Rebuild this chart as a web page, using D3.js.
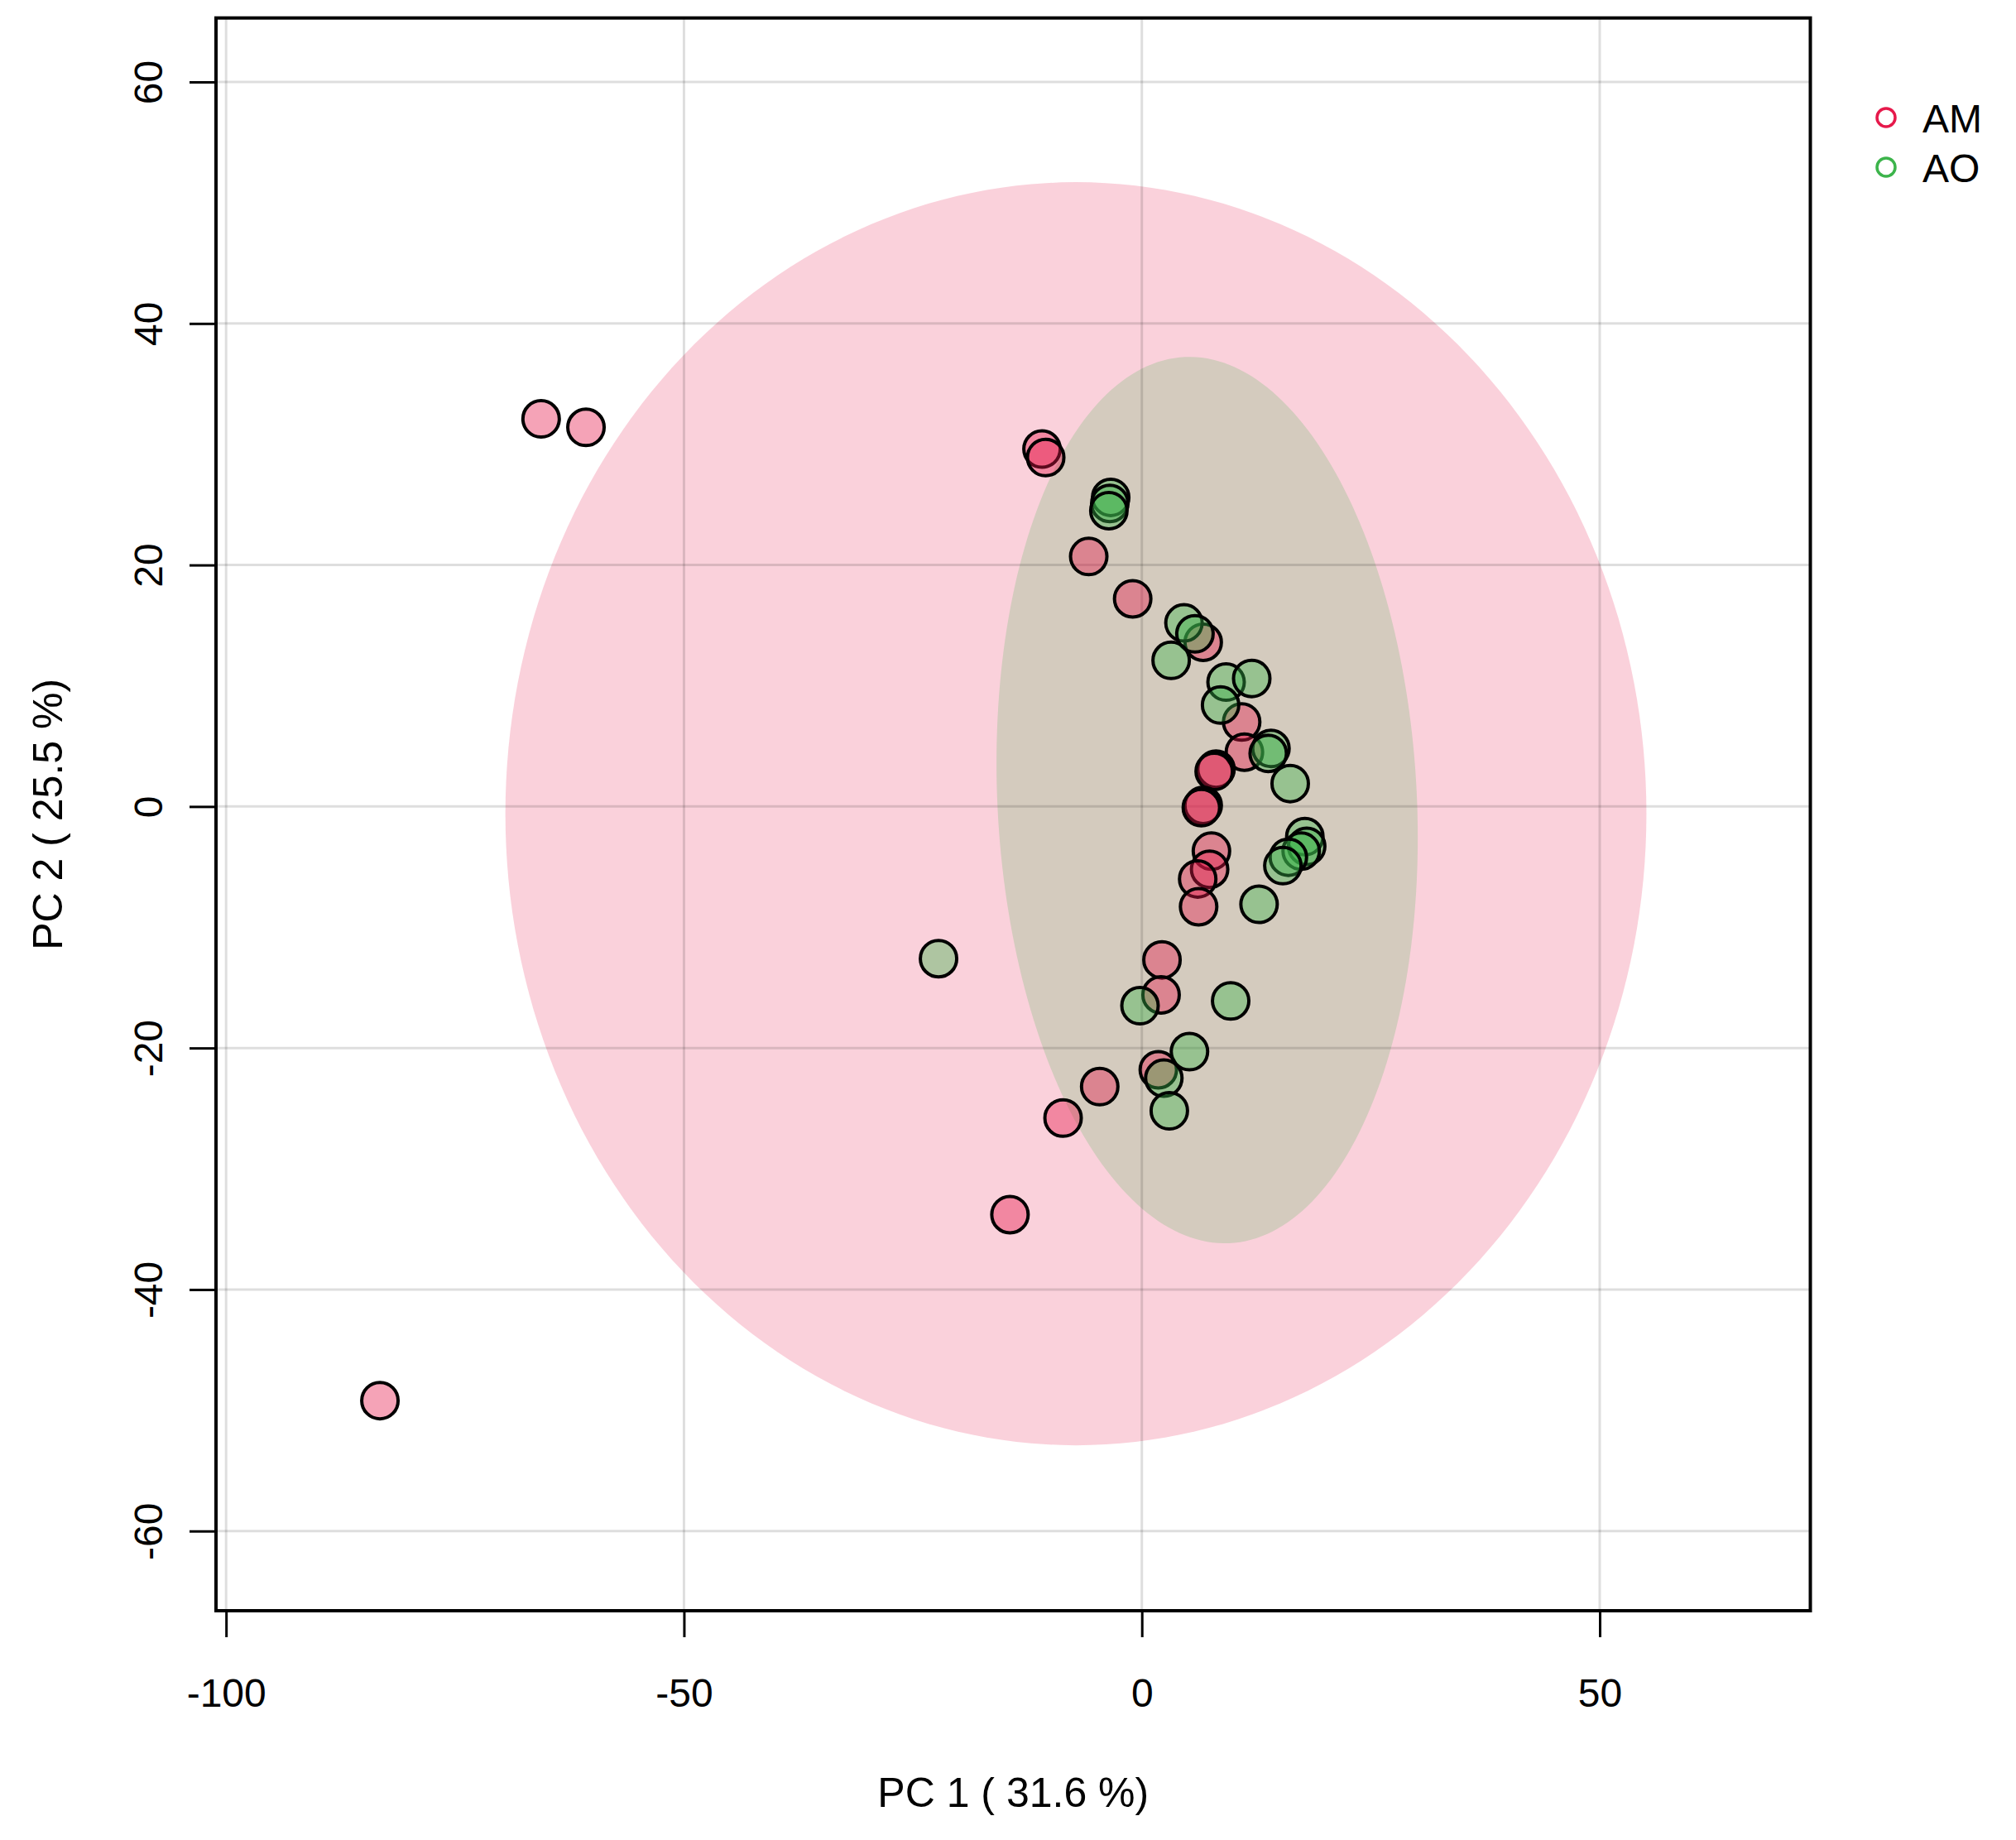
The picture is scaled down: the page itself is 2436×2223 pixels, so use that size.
<!DOCTYPE html>
<html>
<head>
<meta charset="utf-8">
<script src="https://cdn.jsdelivr.net/npm/d3@7"></script>
<style>
  body { margin: 0; background: #fff; }
  text { font-family: "Liberation Sans", Arial, sans-serif; fill: #000; }
</style>
</head>
<body>
<script>
// data
var groups = ["AM", "AO"];
var groupColors = ["#E6194B", "#3CB44B"];

var amPC1 = [-65.6, -60.7, -83.2, -10.9, -10.5, -5.8, -1.0, 6.7, 10.9, 11.2, 8.1, 7.9,
             6.7, 6.5, 7.6, 7.4, 6.1, 6.2, 2.2, 2.1, 1.8, -4.6, -8.6, -14.4];
var amPC2 = [32.1, 31.4, -49.2, 29.6, 28.9, 20.7, 17.2, 13.6, 7.0, 4.5, 3.1, 2.9,
             0.1, -0.1, -3.7, -5.2, -6.0, -8.3, -12.7, -15.6, -21.8, -23.2, -25.8, -33.8];

var aoPC1 = [-3.4, -3.5, -3.6, 4.6, 5.8, 3.2, 9.2, 12.0, 8.6, 14.1, 13.8, 16.2,
             17.8, 18.0, 17.4, 16.0, 15.4, 12.8, -22.2, -0.2, 9.7, 5.2, 2.4, 3.0];
var aoPC2 = [25.6, 25.1, 24.5, 15.2, 14.3, 12.1, 10.3, 10.6, 8.4, 4.8, 4.4, 1.9,
             -2.5, -3.3, -3.7, -4.2, -4.9, -8.1, -12.6, -16.5, -16.1, -20.3, -22.5, -25.2];

// confidence ellipses: centre, spread (sd x, sd y) and correlation
var amEllipse = { cx: -7.2, cy: -0.6, sx: 62.3, sy: 52.3, r: 0 };
var aoEllipse = { cx: 7.13, cy: 0.53, sx: 23.0, sy: 36.7, r: -0.084 };

var xTicks = [-100, -50, 0, 50];
var yTicks = [-60, -40, -20, 0, 20, 40, 60];
var xTitle = "PC 1 ( 31.6 %)";
var yTitle = "PC 2 ( 25.5 %)";

//SVG AND SCALES
var w = 2436, h = 2223;
var x = d3.scaleLinear().domain([-101.1, 73.0]).range([261, 2187.5]);
var y = d3.scaleLinear().domain([-66.6, 65.3]).range([1946, 21.7]);

var svg = d3.select("body").append("svg").attr("width", w).attr("height", h)
  .style("background-color", "#fff");

//ELLIPSES
function ellipsePts(e) {
  var l21 = e.r * e.sy, l22 = e.sy * Math.sqrt(1 - e.r * e.r);
  return d3.range(0, 240).map(function (i) {
    var t = i / 240 * 2 * Math.PI;
    return [e.cx + e.sx * Math.cos(t), e.cy + l21 * Math.cos(t) + l22 * Math.sin(t)];
  });
}
var line = d3.line().x(function (d) { return x(d[0]); }).y(function (d) { return y(d[1]); })
  .curve(d3.curveLinearClosed);

[amEllipse, aoEllipse].forEach(function (e, i) {
  svg.append("path").attr("d", line(ellipsePts(e)))
    .attr("fill", groupColors[i]).attr("fill-opacity", 0.2).attr("stroke", "none");
});

//GRID
var grid = svg.append("g").attr("stroke", "#000").attr("stroke-opacity", 0.13).attr("stroke-width", 3);
grid.selectAll(".gx").data(xTicks).enter().append("line")
  .attr("x1", function (d) { return x(d); }).attr("x2", function (d) { return x(d); })
  .attr("y1", y.range()[0]).attr("y2", y.range()[1]);
grid.selectAll(".gy").data(yTicks).enter().append("line")
  .attr("y1", function (d) { return y(d); }).attr("y2", function (d) { return y(d); })
  .attr("x1", x.range()[0]).attr("x2", x.range()[1]);

//POINTS
var series = [
  { name: groups[0], xs: amPC1, ys: amPC2, color: groupColors[0] },
  { name: groups[1], xs: aoPC1, ys: aoPC2, color: groupColors[1] }
];
series.forEach(function (s) {
  svg.append("g").selectAll("circle").data(s.xs).enter().append("circle")
    .attr("cx", function (d) { return x(d); })
    .attr("cy", function (d, i) { return y(s.ys[i]); })
    .attr("r", 22)
    .attr("fill", s.color).attr("fill-opacity", 0.4)
    .attr("stroke", "#000").attr("stroke-width", 4);
});

//FRAME
svg.append("rect")
  .attr("x", x.range()[0]).attr("y", y.range()[1])
  .attr("width", x.range()[1] - x.range()[0]).attr("height", y.range()[0] - y.range()[1])
  .attr("fill", "none").attr("stroke", "#000").attr("stroke-width", 4);

//AXES
var gx = svg.append("g").attr("transform", "translate(0," + y.range()[0] + ")")
  .call(d3.axisBottom(x).tickValues(xTicks).tickSize(32).tickFormat(function (d) { return String(d); }));
gx.select(".domain").remove();
gx.selectAll("line").attr("stroke", "#000").attr("stroke-width", 3);
gx.selectAll("text").attr("y", 116).attr("dy", 0).style("font-size", "48px")
  .style("font-family", "Liberation Sans, Arial, sans-serif").attr("fill", "#000");

var gy = svg.append("g").attr("transform", "translate(" + x.range()[0] + ",0)")
  .call(d3.axisLeft(y).tickValues(yTicks).tickSize(32).tickFormat(function (d) { return String(d); }));
gy.select(".domain").remove();
gy.selectAll("line").attr("stroke", "#000").attr("stroke-width", 3);
gy.selectAll("text").attr("x", 0).attr("dy", 0)
  .attr("transform", "translate(-65,0) rotate(-90)")
  .attr("text-anchor", "middle").style("font-size", "48px")
  .style("font-family", "Liberation Sans, Arial, sans-serif").attr("fill", "#000");

//TITLES
svg.append("text").attr("x", (x.range()[0] + x.range()[1]) / 2).attr("y", 2183)
  .attr("text-anchor", "middle").style("font-size", "50px").text(xTitle);
svg.append("text")
  .attr("transform", "translate(75," + (y.range()[0] + y.range()[1]) / 2 + ") rotate(-90)")
  .attr("text-anchor", "middle").style("font-size", "50px").text(yTitle);

//LEGEND
var leg = svg.append("g").selectAll("g").data(groups).enter().append("g")
  .attr("transform", function (d, i) { return "translate(2279," + (142 + i * 60) + ")"; });
leg.append("circle").attr("r", 11).attr("fill", "none")
  .attr("stroke", function (d, i) { return groupColors[i]; }).attr("stroke-width", 3.5);
leg.append("text").attr("x", 44).attr("y", 17.5).style("font-size", "48px")
  .text(function (d) { return d; });
</script>
</body>
</html>
